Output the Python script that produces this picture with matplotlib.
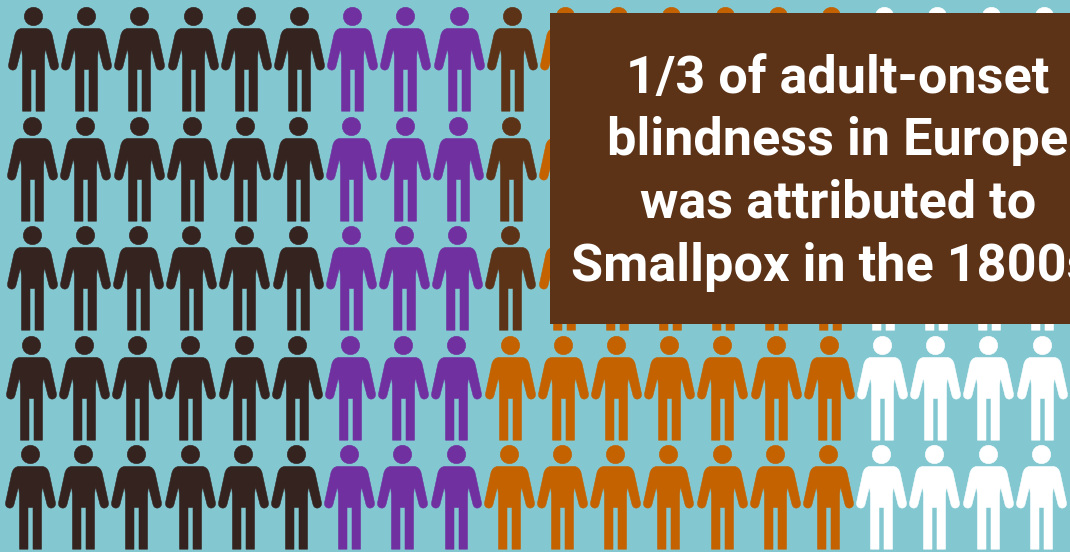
import numpy as np
import matplotlib
matplotlib.use("Agg")
import matplotlib.pyplot as plt
from matplotlib.path import Path

# Number of figures per group, left to right, for each row of the pictogram
group_colors = ["#352320", "#7030a0", "#5c3317", "#c46200", "#ffffff"]
top_row_counts = [6, 3, 1, 6, 4]
bottom_row_counts = [6, 3, 0, 7, 4]
row_counts = [top_row_counts, top_row_counts, top_row_counts,
              bottom_row_counts, bottom_row_counts]

caption_lines = ["1/3 of adult-onset", "blindness in Europe",
                 "was attributed to", "Smallpox in the 1800s"]

BG = "#83c8d1"
BOX = "#5c3317"
DPI = 100
W, H = 1070, 552


def person_glyph():
    """Standing figure in pixel units, origin at the centre of the head, y up."""
    codes = [Path.MOVETO, Path.LINETO,
             Path.CURVE3, Path.CURVE3,
             Path.LINETO,
             Path.CURVE3, Path.CURVE3,
             Path.CURVE3, Path.CURVE3,
             Path.LINETO, Path.LINETO, Path.LINETO, Path.LINETO, Path.LINETO]
    verts = [(0, 12), (-12, 12),
             (-17, 12.5), (-18.6, 18.5),
             (-24.8, 47.5),
             (-25.8, 52.8), (-21, 53.6),
             (-17.4, 53.8), (-16.4, 49.5),
             (-12, 32), (-11, 40), (-11, 94.7), (-2.5, 94.7), (-2.5, 53)]
    # Walk the left half backwards to build the mirrored right half
    back_codes = [Path.LINETO]
    back_verts = [(2.5, 53)]
    k = len(verts) - 1
    while k > 0:
        if codes[k] == Path.CURVE3:
            back_codes += [Path.CURVE3, Path.CURVE3]
            back_verts += [(-verts[k - 1][0], verts[k - 1][1]),
                           (-verts[k - 2][0], verts[k - 2][1])]
            k -= 2
        else:
            back_codes.append(Path.LINETO)
            back_verts.append((-verts[k - 1][0], verts[k - 1][1]))
            k -= 1
    back_codes.append(Path.CLOSEPOLY)
    back_verts.append((0, 12))
    body = Path(np.array(verts + back_verts) * [1, -1], codes + back_codes)
    head = Path.circle((0, 0), 9.2)
    return Path.make_compound_path(head, body)


glyph = person_glyph()
glyph_size = (2 * np.abs(glyph.vertices).max() * 72 / DPI) ** 2

fig = plt.figure(figsize=(W / DPI, H / DPI), dpi=DPI, facecolor=BG)
ax = fig.add_axes([0, 0, 1, 1])
ax.set_xlim(0, W)
ax.set_ylim(H, 0)
ax.axis("off")

# The grid is very slightly sheared: lower rows sit a little further left
for r, counts in enumerate(row_counts):
    head_y = 16 + 109.5 * r
    col = 0
    for color, n in zip(group_colors, counts):
        cols = np.arange(col, col + n)
        xs = 33 + 53.2 * cols - 0.75 * r
        ax.scatter(xs, np.full(n, head_y), marker=glyph, s=glyph_size,
                   c=color, edgecolors=color, linewidths=0.4, zorder=2)
        col += n

ax.add_patch(plt.Rectangle((550, 13), 530, 311, facecolor=BOX,
                           edgecolor="none", zorder=3))

# The last caption line is wider than the panel and runs off its right edge
for line, x, y in zip(caption_lines, [838, 838, 838, 832],
                      [93, 155.5, 218, 281]):
    ax.text(x, y, line, color="white", ha="center", va="baseline",
            family="Roboto", weight="bold", fontsize=37.6, zorder=4,
            clip_on=True)

fig.savefig("out.png", dpi=DPI, facecolor=BG)
